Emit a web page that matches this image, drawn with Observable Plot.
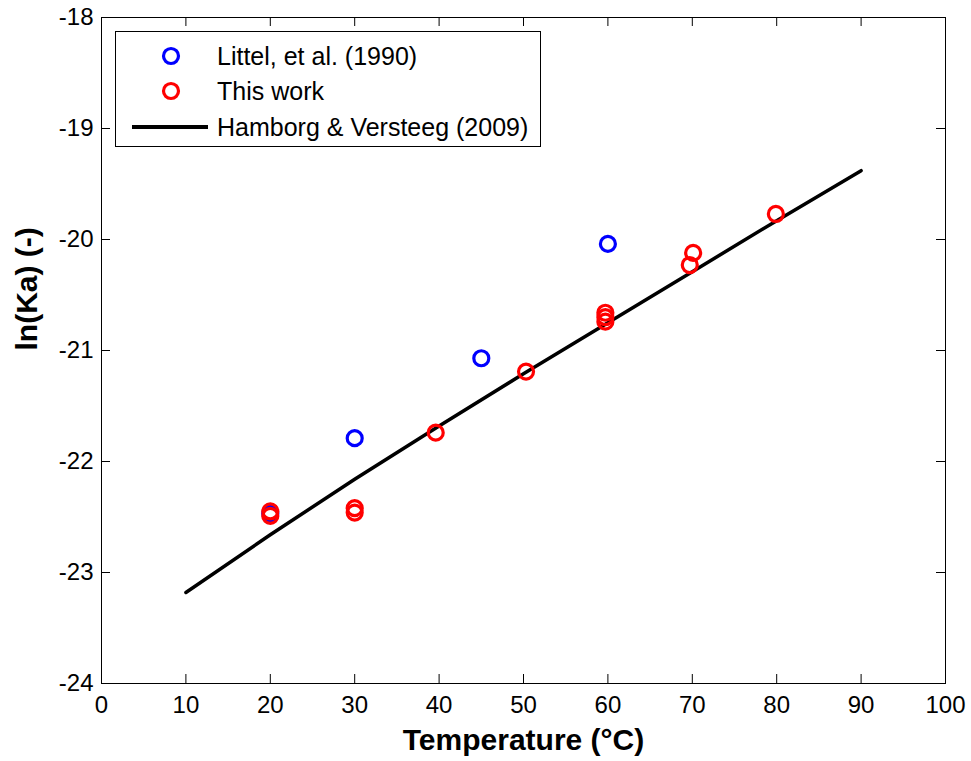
<!DOCTYPE html>
<html>
<head>
<meta charset="utf-8">
<script src="https://cdn.jsdelivr.net/npm/d3@7"></script>
<script src="https://cdn.jsdelivr.net/npm/@observablehq/plot@0.6"></script>
<style>
  html, body { margin: 0; padding: 0; background: #fff; }
  #wrap { position: relative; width: 971px; height: 761px; font-family: "Liberation Sans", Arial, sans-serif; }
  #legend {
    position: absolute; left: 115px; top: 31px; width: 424px; height: 114px;
    border: 1px solid #000; background: #fff; box-sizing: content-box;
  }
  #legend .row { position: absolute; left: 0; height: 30px; width: 100%; }
  #legend svg { position: absolute; left: 0; top: 0; }
  #legend span { position: absolute; left: 101px; top: 0; line-height: 30px; font-size: 25px; color: #000; white-space: nowrap; }
</style>
</head>
<body>
<div id="wrap"><div id="legend"></div></div>
<script>
// Acid dissociation constant ln(Ka) against temperature

// Littel, et al. (1990)
const littelT = [20, 30, 45, 60];
const littelLnKa = [-22.47, -21.79, -21.07, -20.04];

// This work
const workT = [20, 20, 30, 30, 39.6, 50.3, 59.7, 59.7, 59.7, 70.1, 69.7, 79.9];
const workLnKa = [-22.45, -22.49, -22.42, -22.46, -21.74, -21.19, -20.66, -20.70, -20.74, -20.12, -20.23, -19.77];

// Hamborg & Versteeg (2009) correlation
const hvT = [10, 20, 30, 40, 50, 60, 70, 80, 90];
const hvLnKa = [-23.18, -22.66, -22.16, -21.68, -21.21, -20.75, -20.29, -19.83, -19.38];

// Axis ticks
const xTicks = [0, 10, 20, 30, 40, 50, 60, 70, 80, 90, 100];
const yTicks = [-24, -23, -22, -21, -20, -19, -18];

const seriesNames = ["Littel, et al. (1990)", "This work", "Hamborg & Versteeg (2009)"];
const xTitle = "Temperature (°C)";
const yTitle = "ln(Ka) (-)";

const littel = littelT.map((t, i) => ({t, v: littelLnKa[i]}));
const work = workT.map((t, i) => ({t, v: workLnKa[i]}));
const hv = hvT.map((t, i) => ({t, v: hvLnKa[i]}));

const W = 971, H = 761;
const mL = 101, mR = 26, mT = 17, mB = 78;
const fw = W - mL - mR, fh = H - mT - mB;
const tick = 9;
const fmt = d => String(d);

const chart = Plot.plot({
  width: W, height: H,
  marginLeft: mL, marginRight: mR, marginTop: mT, marginBottom: mB,
  style: {fontFamily: "Liberation Sans, Arial, sans-serif", color: "#000", background: "#fff"},
  x: {domain: [0, 100]},
  y: {domain: [-24, -18]},
  marks: [
    // inward tick marks on all four sides
    Plot.ruleX(xTicks, {x: d => d, insetTop: fh - tick, stroke: "#000", strokeWidth: 1}),
    Plot.ruleX(xTicks, {x: d => d, insetBottom: fh - tick, stroke: "#000", strokeWidth: 1}),
    Plot.ruleY(yTicks, {y: d => d, insetRight: fw - tick, stroke: "#000", strokeWidth: 1}),
    Plot.ruleY(yTicks, {y: d => d, insetLeft: fw - tick, stroke: "#000", strokeWidth: 1}),
    Plot.frame({stroke: "#000", strokeWidth: 1}),
    Plot.axisX(xTicks, {tickSize: 0, tickPadding: 12, tickFormat: fmt, label: null, fontSize: 24}),
    Plot.axisY(yTicks, {tickSize: 0, tickPadding: 8, tickFormat: fmt, label: null, fontSize: 24}),
    Plot.text([xTitle], {text: d => d, frameAnchor: "bottom", dy: 66, fontSize: 30, fontWeight: "bold", fill: "#000"}),
    Plot.text([yTitle], {text: d => d, frameAnchor: "left", dx: -74, rotate: -90, fontSize: 30, fontWeight: "bold", fill: "#000"}),
    Plot.line(hv, {x: "t", y: "v", stroke: "#000", strokeWidth: 3.5}),
    Plot.dot(littel, {x: "t", y: "v", r: 7.5, stroke: "#0000ff", strokeWidth: 3.2, fill: "none"}),
    Plot.dot(work, {x: "t", y: "v", r: 7.5, stroke: "#ff0000", strokeWidth: 3.2, fill: "none"})
  ]
});
document.getElementById("wrap").prepend(chart);

// Legend box
const legend = document.getElementById("legend");
const rowTops = [9, 44, 80];
const kinds = [
  {type: "dot", color: "#0000ff"},
  {type: "dot", color: "#ff0000"},
  {type: "line", color: "#000"}
];
seriesNames.forEach((name, i) => {
  const row = document.createElement("div");
  row.className = "row";
  row.style.top = rowTops[i] + "px";
  const ns = "http://www.w3.org/2000/svg";
  const svg = document.createElementNS(ns, "svg");
  svg.setAttribute("width", 100);
  svg.setAttribute("height", 30);
  if (kinds[i].type === "dot") {
    const c = document.createElementNS(ns, "circle");
    c.setAttribute("cx", 55); c.setAttribute("cy", 15); c.setAttribute("r", 7.5);
    c.setAttribute("fill", "none"); c.setAttribute("stroke", kinds[i].color); c.setAttribute("stroke-width", 3.2);
    svg.appendChild(c);
  } else {
    const l = document.createElementNS(ns, "line");
    l.setAttribute("x1", 16); l.setAttribute("x2", 92); l.setAttribute("y1", 15); l.setAttribute("y2", 15);
    l.setAttribute("stroke", kinds[i].color); l.setAttribute("stroke-width", 4);
    svg.appendChild(l);
  }
  row.appendChild(svg);
  const label = document.createElement("span");
  label.textContent = name;
  row.appendChild(label);
  legend.appendChild(row);
});
</script>
</body>
</html>
